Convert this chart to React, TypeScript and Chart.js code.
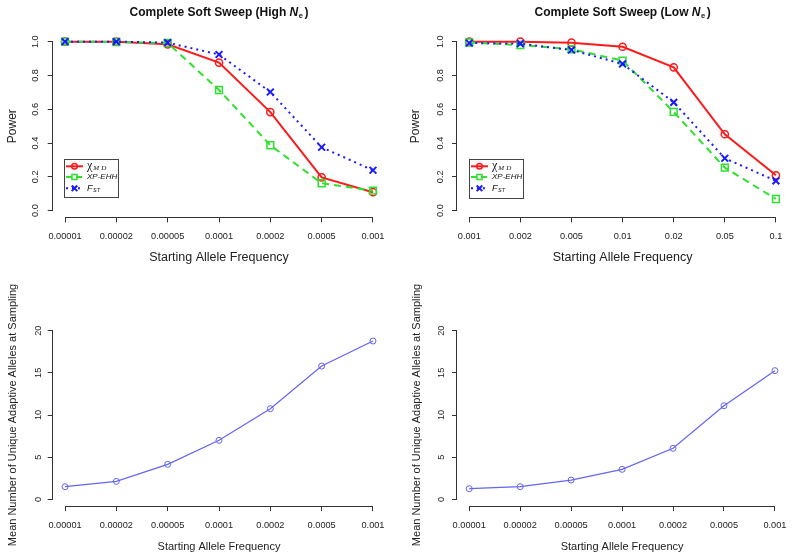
import React, { useEffect, useRef } from "react";
import { Chart, registerables } from "chart.js";

Chart.register(...registerables);

// ---------------- data ----------------
const highNeFreqs = ["0.00001", "0.00002", "0.00005", "0.0001", "0.0002", "0.0005", "0.001"];
const lowNeFreqs = ["0.001", "0.002", "0.005", "0.01", "0.02", "0.05", "0.1"];

const highChiMD = [1.0, 1.0, 0.984, 0.876, 0.583, 0.197, 0.109];
const highXPEHH = [1.0, 0.998, 0.992, 0.714, 0.387, 0.162, 0.118];
const highFST = [1.0, 1.0, 0.994, 0.924, 0.702, 0.375, 0.239];

const lowChiMD = [1.0, 1.0, 0.994, 0.97, 0.848, 0.452, 0.209];
const lowXPEHH = [0.995, 0.98, 0.955, 0.888, 0.584, 0.254, 0.069];
const lowFST = [0.992, 0.988, 0.951, 0.868, 0.641, 0.31, 0.176];

const allelesFreqs = ["0.00001", "0.00002", "0.00005", "0.0001", "0.0002", "0.0005", "0.001"];
const highNeAlleles = [1.5, 2.13, 4.15, 7.0, 10.75, 15.8, 18.77];
const lowNeAlleles = [1.26, 1.5, 2.29, 3.56, 6.05, 11.1, 15.26];

const powerTicks = [0, 0.2, 0.4, 0.6, 0.8, 1.0];
const countTicks = [0, 5, 10, 15, 20];

// ---------------- styling ----------------
const FONT = "'Liberation Sans', Arial, Helvetica, sans-serif";
const SERIF = "'Liberation Serif', 'DejaVu Serif', serif";
const AXIS = "#333333";
const RED = "#ff1a1a";
const GREEN = "#2fe02f";
const BLUE = "#1a1aff";
const PURPLE = "#6464f5";
const TICK_LEN = 5;

Chart.defaults.font.family = FONT;
Chart.defaults.color = "#222";

type Seg = { text: string; font: string; dy?: number; gap?: number };

function drawSegs(ctx: CanvasRenderingContext2D, segs: Seg[], x: number, y: number, align: "left" | "center") {
  let total = 0;
  const widths = segs.map((s) => {
    ctx.font = s.font;
    const w = ctx.measureText(s.text).width + (s.gap || 0);
    total += w;
    return w;
  });
  let cx = align === "center" ? x - total / 2 : x;
  ctx.textAlign = "left";
  ctx.textBaseline = "middle";
  segs.forEach((s, i) => {
    ctx.font = s.font;
    ctx.fillText(s.text, cx, y + (s.dy || 0));
    cx += widths[i];
  });
}

type LegendItem = { color: string; dash: number[]; marker: "circle" | "square" | "cross"; segs: Seg[] };

type SeriesDef = {
  values: number[];
  color: string;
  dash: number[];
  width: number;
  pointStyle: string;
  radius: number;
  pointBorder: number;
  order: number;
};

type PanelDef = {
  key: string;
  x: number;
  y: number;
  w: number;
  h: number;
  area: { l: number; r: number; t: number; b: number };
  labels: string[];
  series: SeriesDef[];
  yTicks: number[];
  yDecimals: number;
  yTitle: string;
  yTitleSize: number;
  yTitleX: number;
  yTickX: number;
  xTitleSize: number;
  xTitleY: number;
  xTickY: number;
  tickSize: number;
  title?: Seg[];
  titleY?: number;
  legend?: { l: number; t: number; r: number; b: number; rows: number[]; lineX0: number; lineX1: number; textX: number; items: LegendItem[] };
};

const legendItems: LegendItem[] = [
  {
    color: RED,
    dash: [],
    marker: "circle",
    segs: [
      { text: "\u03C7", font: `12px ${SERIF}`, gap: 1 },
      { text: "M", font: `italic 7px ${SERIF}`, dy: 2, gap: 2 },
      { text: "D", font: `italic 7px ${SERIF}`, dy: 2 },
    ],
  },
  { color: GREEN, dash: [6, 4], marker: "square", segs: [{ text: "XP-EHH", font: `italic 8px ${FONT}` }] },
  {
    color: BLUE,
    dash: [2, 4],
    marker: "cross",
    segs: [
      { text: "F", font: `italic 9px ${FONT}`, gap: 0.5 },
      { text: "ST", font: `italic 5.5px ${FONT}`, dy: 2.5 },
    ],
  },
];

function powerSeries(a: number[], b: number[], c: number[]): SeriesDef[] {
  return [
    { values: a, color: RED, dash: [], width: 2, pointStyle: "circle", radius: 3.6, pointBorder: 1.5, order: 2 },
    { values: b, color: GREEN, dash: [7, 5], width: 2, pointStyle: "rect", radius: 4.8, pointBorder: 1.5, order: 1 },
    { values: c, color: BLUE, dash: [2, 4], width: 2, pointStyle: "crossRot", radius: 4.8, pointBorder: 2, order: 0 },
  ];
}

function titleSegs(which: string): Seg[] {
  return [
    { text: `Complete Soft Sweep (${which} `, font: `bold 12px ${FONT}` },
    { text: "N", font: `italic bold 12px ${FONT}`, gap: 0.5 },
    { text: "e", font: `bold 7.5px ${FONT}`, dy: 3.5, gap: 1.5 },
    { text: ")", font: `bold 12px ${FONT}` },
  ];
}

const panels: PanelDef[] = [
  {
    key: "tl",
    x: 0,
    y: 0,
    w: 397,
    h: 280,
    area: { l: 52.7, r: 385.3, t: 34.9, b: 217.4 },
    labels: highNeFreqs,
    series: powerSeries(highChiMD, highXPEHH, highFST),
    yTicks: powerTicks,
    yDecimals: 1,
    yTitle: "Power",
    yTitleSize: 12,
    yTitleX: 12.7,
    yTickX: 35.5,
    xTitleSize: 12.5,
    xTitleY: 257.3,
    xTickY: 236,
    tickSize: 9.2,
    title: titleSegs("High"),
    titleY: 12.7,
    legend: { l: 64.3, t: 159, r: 118.7, b: 197.3, rows: [166.3, 177, 188.3], lineX0: 66, lineX1: 83, textX: 87, items: legendItems },
  },
  {
    key: "tr",
    x: 397,
    y: 0,
    w: 398,
    h: 280,
    area: { l: 60, r: 392.65, t: 34.9, b: 217.4 },
    labels: lowNeFreqs,
    series: powerSeries(lowChiMD, lowXPEHH, lowFST),
    yTicks: powerTicks,
    yDecimals: 1,
    yTitle: "Power",
    yTitleSize: 12,
    yTitleX: 18.7,
    yTickX: 43.5,
    xTitleSize: 12.5,
    xTitleY: 257.3,
    xTickY: 236,
    tickSize: 9.2,
    title: titleSegs("Low"),
    titleY: 12.7,
    legend: { l: 71.7, t: 159, r: 126, b: 197.7, rows: [166.3, 177, 188.3], lineX0: 74, lineX1: 91, textX: 95, items: legendItems },
  },
  {
    key: "bl",
    x: 0,
    y: 280,
    w: 397,
    h: 280,
    area: { l: 52.7, r: 385.3, t: 43.9, b: 226.1 },
    labels: allelesFreqs,
    series: [{ values: highNeAlleles, color: PURPLE, dash: [], width: 1.2, pointStyle: "circle", radius: 3, pointBorder: 1, order: 0 }],
    yTicks: countTicks,
    yDecimals: 0,
    yTitle: "Mean Number of Unique Adaptive Alleles at Sampling",
    yTitleSize: 11,
    yTitleX: 13.3,
    yTickX: 38.3,
    xTitleSize: 11,
    xTitleY: 266.7,
    xTickY: 245,
    tickSize: 9.2,
  },
  {
    key: "br",
    x: 397,
    y: 280,
    w: 398,
    h: 280,
    area: { l: 60, r: 392.65, t: 43.9, b: 226.1 },
    labels: allelesFreqs,
    series: [{ values: lowNeAlleles, color: PURPLE, dash: [], width: 1.2, pointStyle: "circle", radius: 3, pointBorder: 1, order: 0 }],
    yTicks: countTicks,
    yDecimals: 0,
    yTitle: "Mean Number of Unique Adaptive Alleles at Sampling",
    yTitleSize: 11,
    yTitleX: 19.7,
    yTickX: 44.7,
    xTitleSize: 11,
    xTitleY: 266.7,
    xTickY: 245,
    tickSize: 9.2,
  },
];

function measure(text: string, font: string): number {
  const c = document.createElement("canvas").getContext("2d")!;
  c.font = font;
  return c.measureText(text).width;
}

function makeChart(canvas: HTMLCanvasElement, p: PanelDef): Chart {
  const n = p.labels.length;
  const ext = (n - 1) * 0.04;
  const yMinT = p.yTicks[0];
  const yMaxT = p.yTicks[p.yTicks.length - 1];
  const yExt = (yMaxT - yMinT) * 0.04;
  const yLabels = p.yTicks.map((v) => v.toFixed(p.yDecimals));
  const widest = Math.max(...yLabels.map((s) => measure(s, `${p.tickSize}px ${FONT}`)));
  const tickLH = p.tickSize * 1.2;

  const xTickPad = p.xTickY - p.area.b - TICK_LEN - tickLH / 2;
  const xTitlePad = p.h - p.xTitleY - (p.xTitleSize * 1.2) / 2;
  const yTitlePad = p.yTitleX - (p.yTitleSize * 1.2) / 2;
  const yTickPad = p.area.l - TICK_LEN - widest / 2 - p.yTickX;

  const rPlugin = {
    id: "rstyle-" + p.key,
    beforeDatasetsDraw(chart: any) {
      const ctx: CanvasRenderingContext2D = chart.ctx;
      const xs = chart.scales.x;
      const ys = chart.scales.y;
      const ca = chart.chartArea;
      ctx.save();
      ctx.strokeStyle = AXIS;
      ctx.lineWidth = 1;
      ctx.beginPath();
      const by = Math.round(ca.bottom) + 0.5;
      ctx.moveTo(xs.getPixelForValue(0), by);
      ctx.lineTo(xs.getPixelForValue(n - 1), by);
      const lx = Math.round(ca.left) - 0.5;
      ctx.moveTo(lx, ys.getPixelForValue(yMinT));
      ctx.lineTo(lx, ys.getPixelForValue(yMaxT));
      ctx.stroke();
      ctx.restore();
    },
    afterDraw(chart: any) {
      const ctx: CanvasRenderingContext2D = chart.ctx;
      const ca = chart.chartArea;
      ctx.save();
      ctx.fillStyle = "#111";
      if (p.title) {
        drawSegs(ctx, p.title, (ca.left + ca.right) / 2, p.titleY!, "center");
      }
      if (p.legend) {
        const L = p.legend;
        ctx.fillStyle = "#ffffff";
        ctx.fillRect(L.l, L.t, L.r - L.l, L.b - L.t);
        ctx.strokeStyle = "#444";
        ctx.lineWidth = 1;
        ctx.strokeRect(Math.round(L.l) + 0.5, Math.round(L.t) + 0.5, Math.round(L.r - L.l), Math.round(L.b - L.t));
        L.items.forEach((it, i) => {
          const y = L.rows[i];
          ctx.strokeStyle = it.color;
          ctx.lineWidth = 2;
          ctx.setLineDash(it.dash);
          ctx.beginPath();
          ctx.moveTo(L.lineX0, y);
          ctx.lineTo(L.lineX1, y);
          ctx.stroke();
          ctx.setLineDash([]);
          const mx = (L.lineX0 + L.lineX1) / 2;
          ctx.lineWidth = 1.5;
          ctx.beginPath();
          if (it.marker === "circle") {
            ctx.arc(mx, y, 2.8, 0, Math.PI * 2);
          } else if (it.marker === "square") {
            ctx.rect(mx - 2.6, y - 2.6, 5.2, 5.2);
          } else {
            ctx.lineWidth = 2;
            ctx.moveTo(mx - 2.8, y - 2.8);
            ctx.lineTo(mx + 2.8, y + 2.8);
            ctx.moveTo(mx - 2.8, y + 2.8);
            ctx.lineTo(mx + 2.8, y - 2.8);
          }
          ctx.stroke();
          ctx.fillStyle = "#111";
          drawSegs(ctx, it.segs, L.textX, y, "left");
        });
      }
      ctx.restore();
    },
  };

  return new Chart(canvas, {
    type: "line",
    data: {
      datasets: p.series.map((s) => ({
        data: s.values.map((v, i) => ({ x: i, y: v })),
        borderColor: s.color,
        borderWidth: s.width,
        borderDash: s.dash,
        pointStyle: s.pointStyle,
        pointRadius: s.radius,
        pointBorderWidth: s.pointBorder,
        pointBorderColor: s.color,
        pointBackgroundColor: "rgba(0,0,0,0)",
        tension: 0,
        fill: false,
        order: s.order,
      })),
    },
    options: {
      animation: false,
      responsive: false,
      maintainAspectRatio: false,
      events: [],
      layout: { padding: { left: 0, bottom: 0, top: p.area.t, right: p.w - p.area.r } },
      plugins: { legend: { display: false }, tooltip: { enabled: false }, title: { display: false } },
      scales: {
        x: {
          type: "linear",
          min: -ext,
          max: n - 1 + ext,
          afterBuildTicks: (scale: any) => {
            scale.ticks = p.labels.map((_, i) => ({ value: i }));
          },
          afterFit: (scale: any) => {
            scale.height = p.h - p.area.b;
          },
          ticks: {
            autoSkip: false,
            maxRotation: 0,
            minRotation: 0,
            padding: xTickPad,
            font: { size: p.tickSize, family: FONT },
            color: "#222",
            callback: (v: any) => p.labels[Math.round(Number(v))] ?? "",
          },
          grid: { drawOnChartArea: false, drawTicks: true, tickLength: TICK_LEN, color: AXIS, lineWidth: 1 },
          border: { display: false },
          title: {
            display: true,
            text: "Starting Allele Frequency",
            font: { size: p.xTitleSize, family: FONT },
            color: "#222",
            padding: { top: 0, bottom: xTitlePad },
          },
        },
        y: {
          type: "linear",
          min: yMinT - yExt,
          max: yMaxT + yExt,
          afterBuildTicks: (scale: any) => {
            scale.ticks = p.yTicks.map((v) => ({ value: v }));
          },
          afterFit: (scale: any) => {
            scale.width = p.area.l;
          },
          ticks: {
            autoSkip: false,
            minRotation: 90,
            maxRotation: 90,
            crossAlign: "center",
            padding: yTickPad,
            font: { size: p.tickSize, family: FONT },
            color: "#222",
            callback: (v: any) => Number(v).toFixed(p.yDecimals),
          },
          grid: { drawOnChartArea: false, drawTicks: true, tickLength: TICK_LEN, color: AXIS, lineWidth: 1 },
          border: { display: false },
          title: {
            display: true,
            text: p.yTitle,
            font: { size: p.yTitleSize, family: FONT },
            color: "#222",
            padding: { top: yTitlePad, bottom: 0 },
          },
        },
      },
    } as any,
    plugins: [rPlugin as any],
  });
}

function Panel({ p }: { p: PanelDef }) {
  const ref = useRef<HTMLCanvasElement | null>(null);
  useEffect(() => {
    if (!ref.current) return;
    const chart = makeChart(ref.current, p);
    return () => chart.destroy();
  }, [p]);
  return (
    <div style={{ position: "absolute", left: p.x, top: p.y, width: p.w, height: p.h }}>
      <canvas ref={ref} width={p.w} height={p.h} style={{ width: p.w, height: p.h, display: "block" }} />
    </div>
  );
}

export default function App() {
  return (
    <div style={{ position: "absolute", left: 0, top: 0, width: 795, height: 560, background: "#ffffff", overflow: "hidden" }}>
      {panels.map((p) => (
        <Panel key={p.key} p={p} />
      ))}
    </div>
  );
}
